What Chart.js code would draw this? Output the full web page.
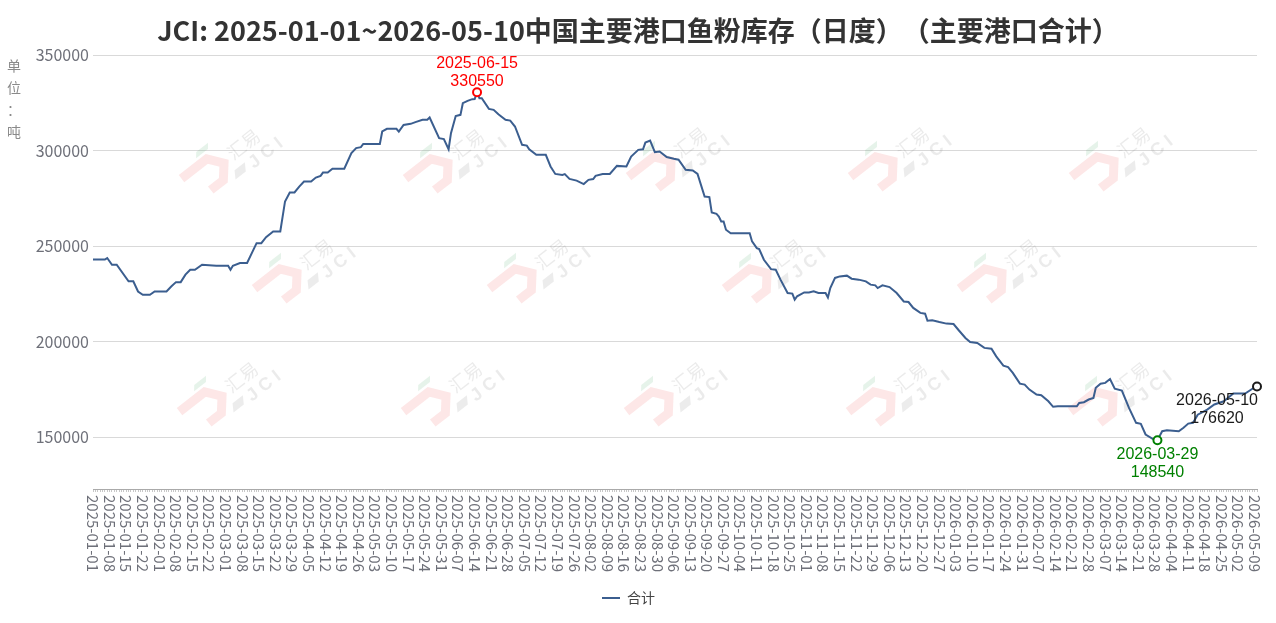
<!DOCTYPE html>
<html>
<head>
<meta charset="utf-8">
<title>中国主要港口鱼粉库存（日度）</title>
<script src="https://cdn.jsdelivr.net/npm/chart.js@4.4.1/dist/chart.umd.min.js"></script>
<style>
  html, body { margin: 0; padding: 0; background: #fff; }
  #wrap { width: 1276px; height: 623px; }
</style>
</head>
<body>
<div id="wrap"><canvas id="fishmealStock" width="1276" height="623"></canvas></div>
<script>
"use strict";

// ---- data ----
// title is kept in two pieces so the browser does not squeeze the "）（" pair
var titleParts = ["JCI: 2025-01-01~2026-05-10中国主要港口鱼粉库存（日度）", "（主要港口合计）"];
var unitChars = ["单", "位", "：", "吨"];
var seriesName = "合计";
var firstDay = "2025-01-01";
var lastDay = "2026-05-10";
var skippedDays = ["2025-01-28", "2025-01-29", "2025-01-30"];
var yTicks = [150000, 200000, 250000, 300000, 350000];

var sampleDates = [
    "2025-01-01", "2025-01-06", "2025-01-07", "2025-01-09", "2025-01-11", "2025-01-16", "2025-01-18", "2025-01-20",
    "2025-01-22", "2025-01-25", "2025-01-27", "2025-02-04", "2025-02-06", "2025-02-08", "2025-02-10", "2025-02-12",
    "2025-02-14", "2025-02-16", "2025-02-19", "2025-02-25", "2025-03-02", "2025-03-03", "2025-03-04", "2025-03-07",
    "2025-03-10", "2025-03-14", "2025-03-16", "2025-03-18", "2025-03-21", "2025-03-24", "2025-03-26", "2025-03-28",
    "2025-03-30", "2025-04-01", "2025-04-03", "2025-04-06", "2025-04-08", "2025-04-10", "2025-04-11", "2025-04-13",
    "2025-04-15", "2025-04-20", "2025-04-23", "2025-04-25", "2025-04-27", "2025-04-28", "2025-05-05", "2025-05-06",
    "2025-05-08", "2025-05-12", "2025-05-13", "2025-05-15", "2025-05-18", "2025-05-20", "2025-05-23", "2025-05-25",
    "2025-05-26", "2025-05-30", "2025-06-01", "2025-06-03", "2025-06-04", "2025-06-06", "2025-06-08", "2025-06-09",
    "2025-06-11", "2025-06-13", "2025-06-14", "2025-06-15", "2025-06-16", "2025-06-17", "2025-06-20", "2025-06-22",
    "2025-06-24", "2025-06-27", "2025-06-29", "2025-07-01", "2025-07-04", "2025-07-06", "2025-07-07", "2025-07-10",
    "2025-07-14", "2025-07-16", "2025-07-18", "2025-07-21", "2025-07-22", "2025-07-24", "2025-07-27", "2025-07-30",
    "2025-08-01", "2025-08-03", "2025-08-04", "2025-08-07", "2025-08-10", "2025-08-13", "2025-08-17", "2025-08-19",
    "2025-08-22", "2025-08-24", "2025-08-25", "2025-08-27", "2025-08-29", "2025-08-31", "2025-09-03", "2025-09-06",
    "2025-09-08", "2025-09-11", "2025-09-14", "2025-09-16", "2025-09-19", "2025-09-21", "2025-09-22", "2025-09-24",
    "2025-09-25", "2025-09-26", "2025-09-27", "2025-09-28", "2025-09-30", "2025-10-08", "2025-10-09", "2025-10-11",
    "2025-10-12", "2025-10-14", "2025-10-17", "2025-10-19", "2025-10-21", "2025-10-24", "2025-10-26", "2025-10-27",
    "2025-10-28", "2025-10-31", "2025-11-02", "2025-11-04", "2025-11-06", "2025-11-09", "2025-11-10", "2025-11-11",
    "2025-11-13", "2025-11-15", "2025-11-18", "2025-11-20", "2025-11-23", "2025-11-26", "2025-11-28", "2025-11-30",
    "2025-12-01", "2025-12-03", "2025-12-06", "2025-12-09", "2025-12-12", "2025-12-14", "2025-12-16", "2025-12-19",
    "2025-12-21", "2025-12-22", "2025-12-24", "2025-12-27", "2025-12-30", "2026-01-02", "2026-01-04", "2026-01-07",
    "2026-01-09", "2026-01-12", "2026-01-15", "2026-01-18", "2026-01-20", "2026-01-23", "2026-01-25", "2026-01-27",
    "2026-01-30", "2026-02-01", "2026-02-03", "2026-02-06", "2026-02-08", "2026-02-11", "2026-02-13", "2026-02-15",
    "2026-02-23", "2026-02-24", "2026-02-26", "2026-02-28", "2026-03-02", "2026-03-03", "2026-03-05", "2026-03-07",
    "2026-03-09", "2026-03-11", "2026-03-14", "2026-03-17", "2026-03-20", "2026-03-22", "2026-03-24", "2026-03-27",
    "2026-03-28", "2026-03-29", "2026-03-31", "2026-04-02", "2026-04-07", "2026-04-09", "2026-04-11", "2026-04-13",
    "2026-04-15", "2026-04-19", "2026-04-22", "2026-04-26", "2026-04-30", "2026-05-05", "2026-05-09", "2026-05-10"
];

// stock in tonnes, same order as sampleDates
var stockTons = [
    243000, 243000, 243800, 240300, 240300, 231600, 231600, 226300,
    224600, 224600, 226300, 226300, 228900, 231200, 231200, 235100,
    237700, 237700, 240300, 239800, 239800, 237700, 239800, 241200,
    241200, 251600, 251600, 254700, 257700, 257700, 273400, 278100,
    278100, 281200, 283800, 283800, 285900, 286800, 288500, 288500,
    290500, 290500, 298700, 301300, 301800, 303500, 303500, 310000,
    311400, 311400, 309900, 313400, 314000, 314900, 316100, 316100,
    317300, 306500, 306000, 300700, 309100, 318100, 318700, 324800,
    326000, 326900, 327000, 330550, 327400, 327400, 321800, 321300,
    319000, 316100, 315700, 312600, 303000, 302600, 300700, 297800,
    297800, 291700, 287800, 287300, 287700, 285200, 284300, 282500,
    284700, 285100, 286800, 287700, 287800, 292000, 291700, 296900,
    300400, 300700, 304200, 305200, 299200, 299500, 296600, 295700,
    295200, 290000, 289600, 287800, 276000, 275700, 267600, 266900,
    265500, 262900, 262900, 258600, 256800, 256800, 252500, 249000,
    248500, 242900, 238000, 237700, 232500, 225500, 225200, 222000,
    223800, 225800, 225800, 226400, 225500, 225500, 223200, 228100,
    233400, 234200, 234600, 233000, 232500, 231600, 229900, 229500,
    228100, 229500, 228600, 225500, 221100, 220800, 217700, 215100,
    214700, 211000, 211200, 210300, 209500, 209300, 206300, 202000,
    199900, 199400, 196800, 196400, 192400, 187500, 186800, 183700,
    178100, 177600, 175000, 172400, 172000, 168900, 166000, 166300,
    166300, 168000, 168400, 169800, 170600, 175900, 178100, 178500,
    180500, 175500, 174500, 165400, 157600, 157100, 151500, 149200,
    148900, 148540, 153200, 153700, 153200, 155000, 157200, 157600,
    161900, 164500, 167200, 168900, 172900, 172900, 176200, 176620
];

// labelled points: highest, lowest, latest
var markDates = ["2025-06-15", "2026-03-29", "2026-05-10"];
var markColors = ["#ff0000", "#008000", "#1a1a1a"];

// ---- helpers ----
function dayList(from, to, skip) {
    var out = [];
    var d = new Date(from + "T00:00:00Z");
    var end = new Date(to + "T00:00:00Z");
    while (d <= end) {
        var s = d.toISOString().slice(0, 10);
        if (skip.indexOf(s) < 0) out.push(s);
        d.setUTCDate(d.getUTCDate() + 1);
    }
    return out;
}

var categories = dayList(firstDay, lastDay, skippedDays);
var lineData = categories.map(function(c) {
    var k = sampleDates.indexOf(c);
    return k < 0 ? null : stockTons[k];
});

function markIndex(i) {
    return markDates.indexOf(categories[i]);
}

var LINE = "#3b5e8f";
var AXIS_TEXT = "#6e7079";
var CJK = "'Noto Sans CJK SC', 'Noto Sans', sans-serif";
var LATIN = "'Liberation Sans', Arial, sans-serif";

// watermark lattice (screen spots)
var wmSpots = [
    [232, 162], [456, 162], [679, 160], [901, 160], [1122, 160],
    [305, 272], [540, 272], [775, 272], [1010, 272],
    [230, 395], [454, 395], [677, 395], [899, 395], [1121, 395]
];

function drawLogo(ctx, x, y) {
    ctx.save();
    ctx.translate(x, y);
    ctx.rotate(-38 * Math.PI / 180);
    ctx.lineJoin = "miter";
    ctx.strokeStyle = "rgba(240, 70, 70, 0.13)";
    ctx.lineWidth = 9;
    ctx.beginPath();
    ctx.moveTo(-50, -18);
    ctx.lineTo(-18, -18);
    ctx.lineTo(-7, -4);
    ctx.lineTo(-18, 9);
    ctx.lineTo(-34, 9);
    ctx.stroke();
    ctx.fillStyle = "rgba(60, 160, 90, 0.13)";
    ctx.beginPath();
    ctx.moveTo(-22, -30); ctx.lineTo(-7, -30); ctx.lineTo(-11, -25); ctx.lineTo(-26, -25);
    ctx.closePath();
    ctx.fill();
    ctx.fillStyle = "rgba(110, 110, 110, 0.13)";
    ctx.beginPath();
    ctx.moveTo(-3, 8); ctx.lineTo(10, 8); ctx.lineTo(5, 16); ctx.lineTo(-8, 16);
    ctx.closePath();
    ctx.fill();
    ctx.textAlign = "center";
    ctx.textBaseline = "middle";
    ctx.fillStyle = "rgba(130, 130, 130, 0.16)";
    ctx.font = "18px " + CJK;
    ctx.fillText("汇易", 20, -7);
    ctx.font = "bold 18px " + LATIN;
    ctx.fillText("J C I", 32, 14);
    ctx.restore();
}

var decorations = {
    id: "decorations",
    beforeDatasetsDraw: function(chart) {
        var ctx = chart.ctx, a = chart.chartArea;
        ctx.save();
        ctx.beginPath();
        ctx.rect(a.left, a.top, a.right - a.left, a.bottom - a.top);
        ctx.clip();
        wmSpots.forEach(function(p) { drawLogo(ctx, p[0], p[1]); });
        ctx.restore();
    },
    afterDraw: function(chart) {
        var ctx = chart.ctx, a = chart.chartArea;
        var xs = chart.scales.x, ys = chart.scales.y;
        ctx.save();

        // title, drawn piece by piece
        ctx.fillStyle = "#333";
        ctx.font = "bold 27px " + CJK;
        ctx.textAlign = "left";
        ctx.textBaseline = "alphabetic";
        var widths = titleParts.map(function(t) { return ctx.measureText(t).width; });
        var tx = chart.width / 2 - (widths[0] + widths[1]) / 2;
        titleParts.forEach(function(t, i) {
            ctx.fillText(t, tx, 41);
            tx += widths[i];
        });

        // unit, one character per row
        ctx.fillStyle = "#8a8a8a";
        ctx.font = "14px " + CJK;
        ctx.textAlign = "center";
        ctx.textBaseline = "middle";
        unitChars.forEach(function(ch, i) {
            ctx.fillText(ch, 14, 66 + i * 22);
        });

        // date labels, every 7th day, turned clockwise
        ctx.fillStyle = AXIS_TEXT;
        ctx.font = "15px " + CJK;
        ctx.textAlign = "left";
        for (var i = 0; i < categories.length; i += 7) {
            ctx.save();
            ctx.translate(xs.getPixelForValue(i), a.bottom + 6);
            ctx.rotate(Math.PI / 2);
            ctx.fillText(categories[i], 0, 0);
            ctx.restore();
        }

        // labels for the marked points
        ctx.font = "16px " + LATIN;
        ctx.textAlign = "center";
        markDates.forEach(function(md, k) {
            var idx = categories.indexOf(md);
            var v = lineData[idx];
            var px = Math.min(xs.getPixelForValue(idx), a.right - 40);
            var py = ys.getPixelForValue(v);
            var up = k === 0;
            ctx.fillStyle = markColors[k];
            ctx.fillText(md, px, up ? py - 29 : py + 14);
            ctx.fillText(String(v), px, up ? py - 11 : py + 32);
        });
        ctx.restore();
    }
};

var chart = new Chart(document.getElementById("fishmealStock").getContext("2d"), {
    type: "line",
    data: {
        labels: categories,
        datasets: [{
            label: seriesName,
            data: lineData,
            spanGaps: true,
            tension: 0,
            borderColor: LINE,
            backgroundColor: LINE,
            borderWidth: 2,
            fill: false,
            pointRadius: function(c) { return markIndex(c.dataIndex) < 0 ? 0 : 4; },
            pointHoverRadius: function(c) { return markIndex(c.dataIndex) < 0 ? 0 : 4; },
            pointBorderWidth: 2,
            pointBorderColor: function(c) {
                var k = markIndex(c.dataIndex);
                return k < 0 ? LINE : markColors[k];
            },
            pointBackgroundColor: "#fff"
        }]
    },
    options: {
        responsive: false,
        animation: false,
        events: [],
        layout: { padding: { top: 55, right: 19, bottom: 8, left: 0 } },
        plugins: {
            title: { display: false },
            tooltip: { enabled: false },
            legend: {
                position: "bottom",
                labels: {
                    usePointStyle: true,
                    pointStyle: "line",
                    pointStyleWidth: 18,
                    color: "#444",
                    font: { family: CJK, size: 14 },
                    padding: 10
                }
            }
        },
        scales: {
            x: {
                type: "category",
                offset: false,
                ticks: { display: false },
                grid: { drawOnChartArea: false, drawTicks: true, tickLength: 3, color: "#c8c8c8" },
                border: { color: "#aaaaaa" },
                afterFit: function(scale) { scale.height = 92; }
            },
            y: {
                min: 123000,
                max: 350000,
                afterBuildTicks: function(scale) {
                    scale.ticks = yTicks.map(function(v) { return { value: v }; });
                },
                ticks: {
                    padding: 4,
                    color: AXIS_TEXT,
                    font: { family: CJK, size: 16 },
                    callback: function(v) { return String(v); }
                },
                grid: { color: "#d9d9d9", drawTicks: false },
                border: { display: false },
                afterFit: function(scale) { scale.width = 93; }
            }
        }
    },
    plugins: [decorations]
});
</script>
</body>
</html>
